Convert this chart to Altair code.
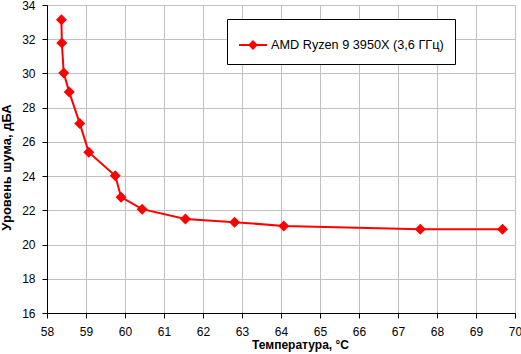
import altair as alt
import pandas as pd

temps = [58.37, 58.38, 58.43, 58.57, 58.84, 59.07, 59.75, 59.90, 60.44, 61.55, 62.81, 64.07, 67.57, 69.68]
noise = [33.14, 31.78, 30.02, 28.91, 27.08, 25.40, 24.02, 22.77, 22.07, 21.49, 21.31, 21.09, 20.90, 20.90]
series = "AMD Ryzen 9 3950X (3,6 ГГц)"

df = pd.DataFrame({"t": temps, "n": noise, "s": [series] * len(temps)})

FONT = "Liberation Sans"

chart = alt.Chart(df).mark_line(
    color="#ff0000", strokeWidth=2,
    point=alt.OverlayMarkDef(shape="diamond", size=121, filled=True, color="#ff0000", opacity=1),
).encode(
    x=alt.X("t:Q", scale=alt.Scale(domain=[58, 70], nice=False, zero=False),
            axis=alt.Axis(title="Температура, °C", values=list(range(58, 71)), format="d",
                          labelFontSize=12, titleFontSize=12, titleFontWeight="bold",
                          labelFont=FONT, titleFont=FONT, labelColor="#000", titleColor="#000",
                          domainColor="#000", tickColor="#000", tickSize=5, labelPadding=8,
                          titleX=253, titleY=35, titleAlign="center", titleBaseline="alphabetic",
                          titleAnchor="start",
                          gridColor="#c0c0c0", labelFlush=False)),
    y=alt.Y("n:Q", scale=alt.Scale(domain=[16, 34], nice=False, zero=False),
            axis=alt.Axis(title="Уровень шума, дБА", values=list(range(16, 35, 2)), format="d",
                          labelFontSize=12, titleFontSize=13, titleFontWeight="bold",
                          labelFont=FONT, titleFont=FONT, labelColor="#000", titleColor="#000",
                          domainColor="#000", tickColor="#000", tickSize=5, labelPadding=7,
                          titleX=-37, titleY=162, titleAlign="center", titleBaseline="alphabetic",
                          titleAnchor="start", titleAngle=270,
                          gridColor="#c0c0c0", labelFlush=False)),
    color=alt.Color("s:N", scale=alt.Scale(range=["#ff0000"]),
                    legend=alt.Legend(title=None, orient="none", legendX=180, legendY=14,
                                      symbolType="M-1,0L1,0M-0.25,0L0,-0.25L0.25,0L0,0.25Z",
                                      symbolSize=784, symbolStrokeWidth=2,
                                      symbolFillColor="#ff0000", symbolStrokeColor="#ff0000",
                                      labelFont=FONT, labelFontSize=12.7, labelColor="#000",
                                      strokeColor="#000", fillColor="#fff", padding=11,
                                      labelOffset=3, labelLimit=400)),
).properties(
    width=468, height=308,
    padding={"left": 47, "top": 5, "right": 6, "bottom": 41},
    autosize=alt.AutoSizeParams(type="none"),
).configure_view(stroke="#808080", strokeWidth=1).configure(background="#ffffff")

chart.save("out.html", embed_options={"renderer": "svg", "actions": False})
